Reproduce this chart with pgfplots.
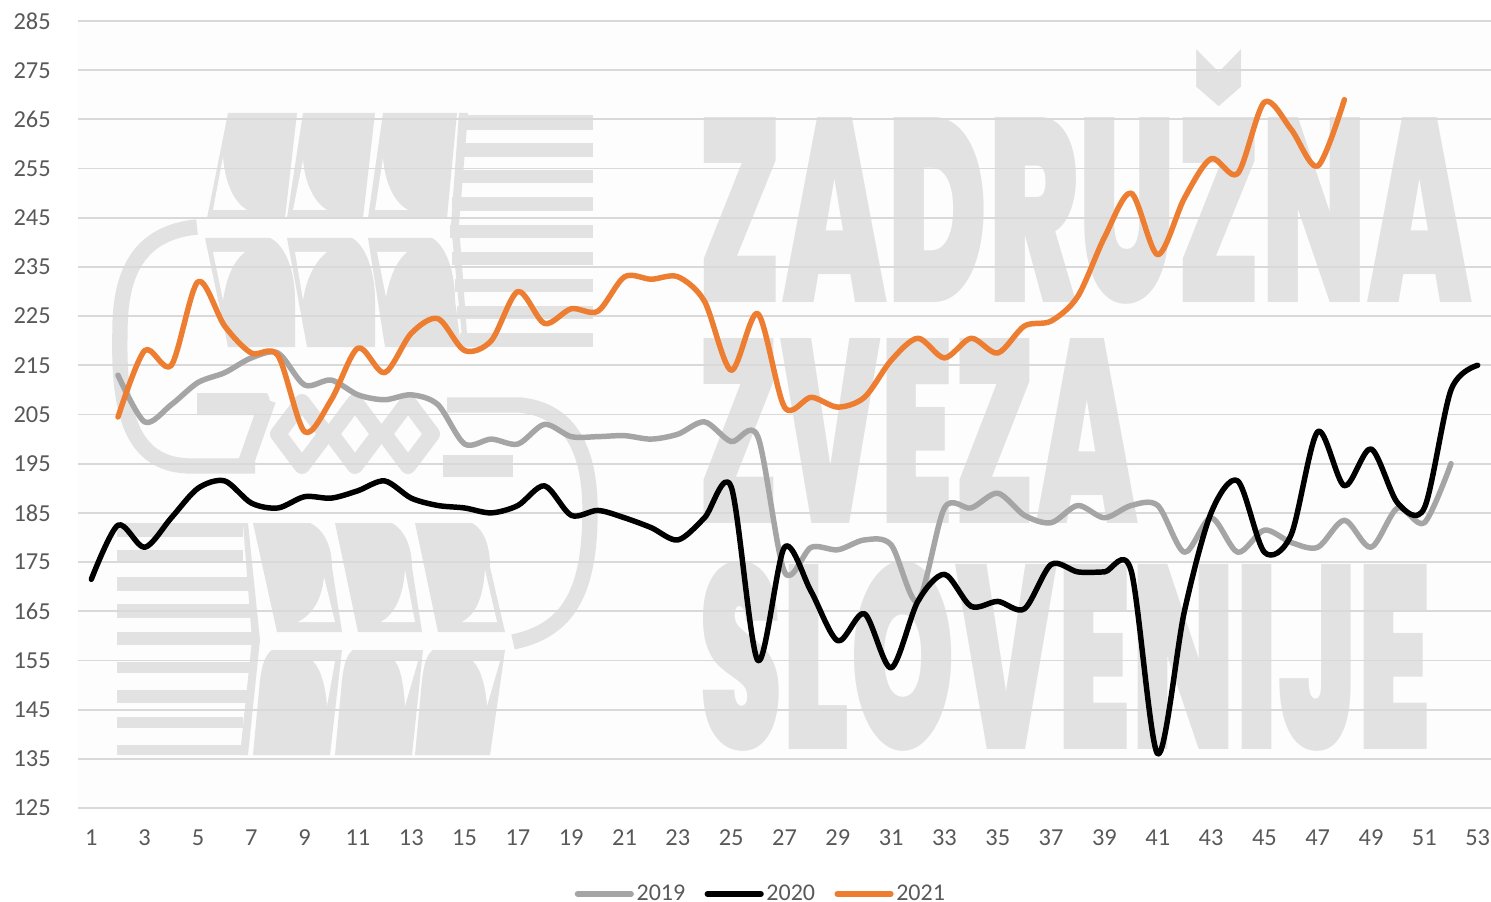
\documentclass[border=0pt]{standalone}
\usepackage{graphicx}
\usepackage{fontspec}
\setmainfont{Carlito}
\newfontfamily\wm{Poppins Black}
\usepackage{pgfplots}
\pgfplotsset{compat=1.18}
\definecolor{wmg}{HTML}{E2E2E2}
\definecolor{gridc}{HTML}{D9D9D9}
\definecolor{txt}{HTML}{595959}
\definecolor{c19}{HTML}{A5A5A5}
\definecolor{c21}{HTML}{ED7D31}
\definecolor{bgc}{HTML}{FDFDFD}
\begin{document}
\begin{tikzpicture}[x=0.75pt,y=-0.75pt]
\useasboundingbox (0,0) rectangle (1491,902);
\fill[bgc] (78,21) rectangle (1491,808);
% watermark: text
\node[anchor=base west,inner sep=0pt,text=wmg] at (697,302) {\resizebox{581pt}{\height}{\wm\fontsize{196}{196}\selectfont ZADRUŽNA}};
\node[anchor=base west,inner sep=0pt,text=wmg] at (697,523) {\resizebox{331pt}{\height}{\wm\fontsize{196}{196}\selectfont ZVEZA}};
\node[anchor=base west,inner sep=0pt,text=wmg] at (699,749) {\resizebox{549pt}{\height}{\wm\fontsize{196}{196}\selectfont SLOVENIJE}};
% watermark: logo
\begin{scope}
\fill[wmg] (228,113)--(297,113)--(285,218)--(207,218)--cycle;
\fill[wmg] (303,113)--(375,113)--(363,218)--(287,218)--cycle;
\fill[wmg] (383,113)--(457,113)--(447,218)--(368,218)--cycle;
\fill[bgc] (223,157).. controls (225,185) and (235,203) .. (247,210)--(213,210)--cycle;
\fill[bgc] (303,160).. controls (305,185) and (315,203) .. (327,210)--(293,210)--cycle;
\fill[bgc] (383,158).. controls (385,185) and (395,203) .. (408,210)--(375,210)--cycle;
\fill[wmg] (205,238)--(270,238) .. controls (285,245) and (295,270) .. (295,300)--(295,347)--(228,347)--cycle;
\fill[wmg] (287,238)--(352,238) .. controls (365,245) and (375,270) .. (375,300)--(375,347)--(307,347)--cycle;
\fill[wmg] (368,238)--(432,238) .. controls (445,245) and (455,270) .. (455,300)--(461,347)--(385,347)--cycle;
\fill[bgc] (213,252)--(245,252) .. controls (232,262) and (226,280) .. (223,300)--cycle;
\fill[bgc] (295,252)--(327,252) .. controls (314,262) and (306,280) .. (303,300)--cycle;
\fill[bgc] (377,252)--(407,252) .. controls (395,262) and (389,280) .. (386,297)--cycle;
\foreach \a/\b/\l in {115/130/460,143/157/457,170/183/455,197/211/452,225/238/450,252/265/452,279/292/455,306/319/457,333/347/460}
  \fill[wmg] (\l,\a) rectangle (593,\b);
\fill[wmg] (459,113)--(468,113)--(459,225)--(468,347)--(463,347)--(451,225)--cycle;
% handle
\draw[wmg,line width=11.5pt] (197,227) .. controls (145,232) and (120,265) .. (120,330) .. controls (118,410) and (130,465) .. (190,466) -- (255,466);
\draw[wmg,line width=11.5pt] (447,405) -- (520,405) .. controls (570,410) and (590,450) .. (590,510) .. controls (590,590) and (570,630) .. (513,642);
\fill[wmg] (197,393)--(267,393) .. controls (272,400) and (270,410) .. (265,415)--(197,415)--cycle;
\fill[wmg] (443,455)--(513,455)--(513,477)--(443,477)--cycle;
\draw[wmg,line width=12pt,line join=round] (268,400)--(244,468);
\foreach \cx in {302,355,408}
  \draw[wmg,line width=12pt,line join=round] (\cx,402)--(\cx+24,434)--(\cx,466)--(\cx-24,434)--cycle;
% lower tiles
\fill[wmg] (253,523)--(310,523) .. controls (325,530) and (332,548) .. (332,567)--(342,632)--(277,632)--cycle;
\fill[wmg] (335,523)--(392,523) .. controls (405,530) and (412,548) .. (412,567)--(422,632)--(358,632)--cycle;
\fill[wmg] (415,523)--(472,523) .. controls (485,530) and (490,548) .. (490,567)--(505,632)--(438,632)--cycle;
\fill[bgc] (324,577) .. controls (322,600) and (312,615) .. (298,622)--(335,622)--cycle;
\fill[bgc] (405,570) .. controls (403,600) and (393,615) .. (381,622)--(415,622)--cycle;
\fill[bgc] (485,570) .. controls (483,600) and (475,615) .. (462,622)--(497,622)--cycle;
\fill[wmg] (272,650) -- (342,650)--(330,755)--(253,755) -- (260,680) .. controls (262,665) and (265,655) .. cycle;
\fill[wmg] (353,650)--(423,650)--(412,755)--(335,755)--(342,680) .. controls (344,665) and (346,655) .. cycle;
\fill[wmg] (433,650)--(505,650)--(490,755)--(415,755)--(422,680) .. controls (424,665) and (426,655) .. cycle;
\fill[bgc] (313,661)--(335,661)--(327,706) .. controls (326,690) and (322,670) .. cycle;
\fill[bgc] (395,661)--(418,661)--(405,706) .. controls (404,690) and (402,670) .. cycle;
\fill[bgc] (473,661)--(500,661)--(487,706) .. controls (486,690) and (482,670) .. cycle;
\foreach \a/\b/\r in {523/537/243,550/563/243,577/591/248,604/618/253,632/645/254,662/673/253,690/703/247,717/728/243,745/755/243}
  \fill[wmg] (117,\a) rectangle (\r,\b);
\fill[wmg] (243,523)--(248,523)--(260,640)--(248,755)--(240,755)--(252,640)--cycle;
\end{scope}
\begin{axis}[
  at={(58.5pt,-606pt)},anchor=south west,
  scale only axis,width=1059.75pt,height=590.25pt,
  xmin=0.5,xmax=53.5,ymin=125,ymax=285,
  xtick={1,3,...,53},ytick={125,135,...,285},
  ymajorgrids,
  grid style={gridc,line width=1.4pt},
  separate axis lines,
  x axis line style={gridc,line width=1.4pt,-},
  y axis line style={draw=none},
  axis x line*=bottom,
  axis y line*=left,
  major tick length=0pt,
  /pgf/number format/assume math mode=true,
  tick label style={font=\fontsize{18.3}{20}\selectfont,text=txt},
  yticklabel style={anchor=east,xshift=-17pt},
  xticklabel style={anchor=north,yshift=-12.5pt},
  legend style={at={(0.4835,-0.1092)},anchor=center,draw=none,fill=none,
    font=\fontsize{18}{20}\selectfont,text=txt,legend columns=3,
    /tikz/every even column/.style={column sep=12.5pt},
    nodes={inner xsep=2pt,inner ysep=1pt}},
  legend image code/.code={\draw[#1,line width=4.4pt,line cap=round] (0pt,0pt)--(40pt,0pt);},
  legend cell align=left,
  every axis plot/.append style={line width=4.1pt,line cap=round,line join=round,smooth,tension=0.5,mark=none},
]
\addplot[c19] coordinates {(2,213)(3,203.5)(4,207)(5,211.5)(6,213.5)(7,216.5)(8,217.5)(9,211)(10,212)(11,209)(12,208)(13,209)(14,207)(15,199)(16,200)(17,199)(18,203)(19,200.5)(20,200.5)(21,200.7)(22,200)(23,201)(24,203.5)(25,199.5)(26,200.5)(27,173)(28,178)(29,177.5)(30,179.5)(31,178.5)(32,167)(33,186)(34,186)(35,189)(36,184.5)(37,183)(38,186.5)(39,184)(40,186.5)(41,186.5)(42,177)(43,184)(44,177)(45,181.5)(46,179)(47,178)(48,183.5)(49,178)(50,186)(51,183)(52,195)};
\addplot[black] coordinates {(1,171.5)(2,182.5)(3,178)(4,184)(5,190)(6,191.5)(7,187)(8,186)(9,188.3)(10,188)(11,189.5)(12,191.5)(13,188)(14,186.5)(15,186)(16,185)(17,186.5)(18,190.5)(19,184.5)(20,185.5)(21,184)(22,182)(23,179.5)(24,184)(25,190.3)(26,155)(27,178)(28,169)(29,159)(30,164.5)(31,153.5)(32,167)(33,172.5)(34,166)(35,167)(36,165.5)(37,174.5)(38,173)(39,173)(40,173.3)(41,136)(42,165)(43,185)(44,191.5)(45,177)(46,180.5)(47,201.5)(48,190.5)(49,198)(50,187)(51,186)(52,210)(53,215)};
\addplot[c21] coordinates {(2,204.5)(3,218)(4,215)(5,232)(6,223)(7,217.5)(8,217)(9,201.5)(10,208)(11,218.5)(12,213.5)(13,221.5)(14,224.5)(15,218)(16,220)(17,230)(18,223.5)(19,226.5)(20,226)(21,233)(22,232.5)(23,233)(24,228)(25,214)(26,225.5)(27,206.5)(28,208.5)(29,206.5)(30,208.5)(31,216)(32,220.5)(33,216.5)(34,220.5)(35,217.5)(36,223)(37,224)(38,229)(39,241)(40,250)(41,237.5)(42,249)(43,257)(44,254)(45,268.5)(46,263)(47,255.5)(48,269)};
\legend{2019,2020,2021}
\end{axis}
\end{tikzpicture}
\end{document}
